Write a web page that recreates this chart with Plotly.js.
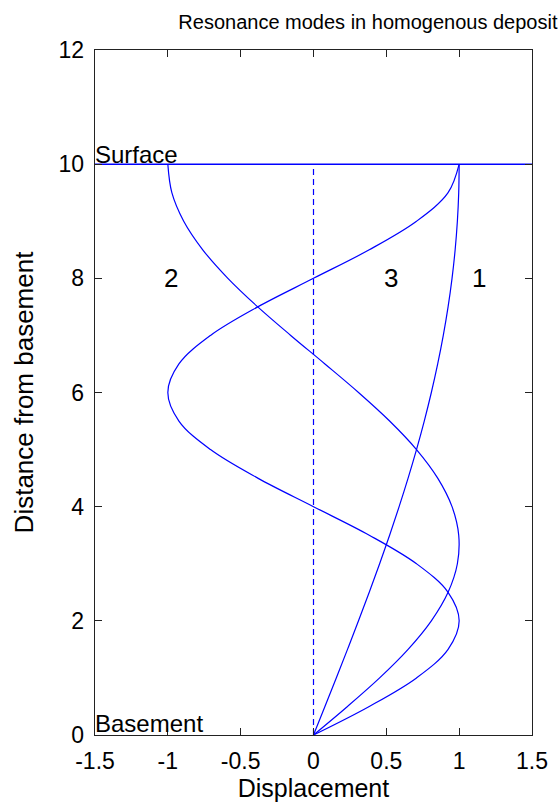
<!DOCTYPE html>
<html>
<head>
<meta charset="utf-8">
<script src="https://cdn.plot.ly/plotly-3.0.1.min.js"></script>
<style>
  html, body { margin: 0; padding: 0; background: #fff; }
  #plot { width: 560px; height: 805px; }
</style>
</head>
<body>
<div id="plot"></div>
<script>
// Height above the basement (m), shared by all three mode shapes
const depth = [0, 0.5, 1, 1.5, 2, 2.5, 3, 3.5, 4, 4.5, 5, 5.5, 6, 6.5, 7, 7.5, 8, 8.5, 9, 9.5, 10];

// Normalised displacement of each resonance mode
const mode1 = [0, 0.0785, 0.1564, 0.2334, 0.3090, 0.3827, 0.4540, 0.5225, 0.5878, 0.6494, 0.7071,
               0.7604, 0.8090, 0.8526, 0.8910, 0.9239, 0.9511, 0.9724, 0.9877, 0.9969, 1];
const mode2 = [0, 0.2334, 0.4540, 0.6494, 0.8090, 0.9239, 0.9877, 0.9969, 0.9511, 0.8526, 0.7071,
               0.5225, 0.3090, 0.0785, -0.1564, -0.3827, -0.5878, -0.7604, -0.8910, -0.9724, -1];
const mode3 = [0, 0.3827, 0.7071, 0.9239, 1, 0.9239, 0.7071, 0.3827, 0, -0.3827, -0.7071,
               -0.9239, -1, -0.9239, -0.7071, -0.3827, 0, 0.3827, 0.7071, 0.9239, 1];

// Reference lines: free surface and zero-displacement axis
const surfaceX = [-1.5, 1.5];
const surfaceY = [10, 10];
const zeroX = [0, 0];
const zeroY = [0, 10];

// Mode number labels
const labelText = ['2', '3', '1'];
const labelX = [-0.98, 0.535, 1.136];
const labelY = [8, 8, 8];

// Axis ticks
const xTicks = [-1.5, -1, -0.5, 0, 0.5, 1, 1.5];
const xTickText = ['-1.5', '-1', '-0.5', '0', '0.5', '1', '1.5'];
const yTicks = [0, 2, 4, 6, 8, 10, 12];

const blue = 'rgb(0,0,255)';
const font = 'Arial, "Liberation Sans", sans-serif';

const modeTrace = (x) => ({
  x: x, y: depth, type: 'scatter', mode: 'lines',
  line: { color: blue, width: 1.2, shape: 'spline', smoothing: 1 },
  hoverinfo: 'skip'
});

const traces = [
  modeTrace(mode1),
  modeTrace(mode2),
  modeTrace(mode3),
  { x: surfaceX, y: surfaceY, type: 'scatter', mode: 'lines',
    line: { color: blue, width: 1.5 }, hoverinfo: 'skip' },
  { x: zeroX, y: zeroY, type: 'scatter', mode: 'lines',
    line: { color: blue, width: 1.2, dash: '6px,4px' }, hoverinfo: 'skip' }
];

const annotations = labelText.map((t, i) => ({
  x: labelX[i], y: labelY[i], xref: 'x', yref: 'y', text: t, showarrow: false,
  xanchor: 'center', yanchor: 'middle', font: { family: font, size: 26, color: '#000' }
}));
annotations.push(
  { x: -1.5, y: 10, xref: 'x', yref: 'y', text: 'Surface', showarrow: false,
    xanchor: 'left', yanchor: 'bottom', xshift: -2, yshift: -6,
    font: { family: font, size: 24, color: '#000' } },
  { x: -1.5, y: 0, xref: 'x', yref: 'y', text: 'Basement', showarrow: false,
    xanchor: 'left', yanchor: 'bottom', xshift: -2, yshift: -4,
    font: { family: font, size: 24, color: '#000' } }
);

const axisCommon = {
  showgrid: false, zeroline: false,
  showline: true, linecolor: '#222', linewidth: 1.3, mirror: 'ticks',
  ticks: 'inside', ticklen: 7, tickwidth: 1.3, tickcolor: '#222',
  tickfont: { family: font, size: 23, color: '#000' }
};

const layout = {
  width: 560, height: 805,
  margin: { l: 95, r: 28, t: 50, b: 70 },
  paper_bgcolor: '#fff', plot_bgcolor: '#fff',
  showlegend: false,
  title: {
    text: 'Resonance modes in homogenous deposit',
    font: { family: font, size: 20, color: '#000' },
    xref: 'container', x: 0.657, xanchor: 'center',
    yref: 'container', y: 0.973, yanchor: 'middle'
  },
  xaxis: Object.assign({}, axisCommon, {
    range: [-1.5, 1.5], tickvals: xTicks, ticktext: xTickText, ticklabelstandoff: 5,
    title: { text: 'Displacement', font: { family: font, size: 25, color: '#000' }, standoff: 6 }
  }),
  yaxis: Object.assign({}, axisCommon, {
    range: [0, 12], tickvals: yTicks, ticklabelstandoff: 5,
    title: { text: 'Distance from basement', font: { family: font, size: 26, color: '#000' }, standoff: 17 }
  }),
  annotations: annotations
};

Plotly.newPlot('plot', traces, layout, { staticPlot: true, displayModeBar: false });
</script>
</body>
</html>
